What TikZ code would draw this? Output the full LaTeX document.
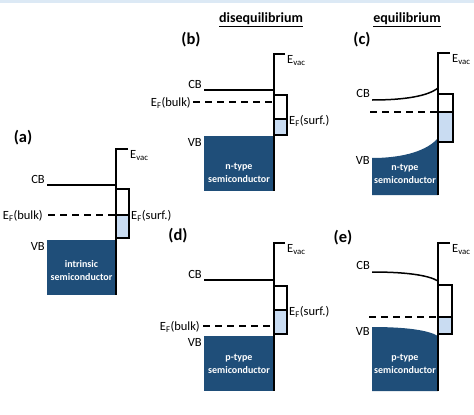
\documentclass[tikz,border=0pt]{standalone}
\usepackage{fontspec}
\setmainfont{Carlito}
\definecolor{blockblue}{HTML}{1F4E79}
\definecolor{fillblue}{HTML}{C9DCF2}
\definecolor{stripblue}{HTML}{DCE9F5}
\tikzset{
  band/.style={line width=1.5pt},
  fermi/.style={line width=1.5pt, dash pattern=on 7pt off 5pt},
  semiblock/.style={fill=blockblue, draw=none},
  surfbox/.style={draw, line width=1.5pt},
  surffill/.style={fill=fillblue, draw=none},
  lbl/.style={font=\fontsize{12.5}{14}\selectfont, inner sep=1pt},
  panel/.style={font=\fontsize{16.5}{18}\selectfont\bfseries, inner sep=0pt},
  head/.style={font=\fontsize{14}{16}\selectfont\bfseries, inner sep=0pt},
  blocktext/.style={font=\fontsize{10}{13}\selectfont\bfseries, text=white, align=center, inner sep=0pt}
}
\begin{document}
\begin{tikzpicture}[x=1pt,y=-1pt]
\useasboundingbox (0,0) rectangle (474,415);
\fill[stripblue] (0,0) rectangle (474,3);

% headers
\node[head] (hdis) at (261,20) {\underline{disequilibrium}};
\node[head] (heq) at (407,20) {\underline{equilibrium}};

% ================= (a) =================
\node[panel] (la) at (23,138) {(a)};
\fill[semiblock] (47,240) rectangle (116,295);
\node[blocktext] (ta) at (81.5,271) {intrinsic\\semiconductor};
\fill[surffill] (116,215) rectangle (129,238);
\draw[surfbox] (116,189) rectangle (129,238);
\draw[band] (116,215) -- (129,215);
\coordinate (av) at (128,149);
\draw[band] (av) -- (116,149) -- (116,295);
\coordinate (acb) at (47,185);
\draw[band] (acb) -- (116,185);
\coordinate (aef) at (48,215);
\draw[fermi] (aef) -- (116,215);
\node[lbl, anchor=north west] (aevac) at (129,149) {E\textsubscript{vac}};
\node[lbl, anchor=base east] (acbl) at (46,183) {CB};
\node[lbl, anchor=east] (aefl) at (44,216) {E\textsubscript{F}(bulk)};
\node[lbl, anchor=west] (aesl) at (130,216) {E\textsubscript{F}(surf.)};
\node[lbl, anchor=north east] (avbl) at (46,241) {VB};

% ================= (b) =================
\node[panel] (lb) at (191,40) {(b)};
\fill[semiblock] (204,136) rectangle (274,191);
\node[blocktext] (tb) at (239,173) {n-type\\semiconductor};
\fill[surffill] (274,119) rectangle (287,135);
\draw[surfbox] (274,95) rectangle (287,135);
\draw[band] (274,119) -- (287,119);
\coordinate (bv) at (285,54);
\draw[band] (bv) -- (274,54) -- (274,191);
\coordinate (bcb) at (204,90);
\draw[band] (bcb) -- (274,90);
\coordinate (bef) at (193,102);
\draw[fermi] (bef) -- (274,102);
\node[lbl, anchor=north west] (bevac) at (286,54) {E\textsubscript{vac}};
\node[lbl, anchor=base east] (bcbl) at (203,88) {CB};
\node[lbl, anchor=east] (befl) at (192,103) {E\textsubscript{F}(bulk)};
\node[lbl, anchor=west] (besl) at (288,121) {E\textsubscript{F}(surf.)};
\node[lbl, anchor=north east] (bvbl) at (203,137) {VB};

% ================= (c) =================
\node[panel] (lc) at (362,40) {(c)};
\fill[semiblock] (372,158) .. controls (405,158) and (428,150) .. (438,138) -- (438,195) -- (372,195) -- cycle;
\node[blocktext] (tc) at (405,174) {n-type\\semiconductor};
\fill[surffill] (438,112) rectangle (453,142);
\draw[surfbox] (438,94) rectangle (453,142);
\draw[band] (438,112) -- (453,112);
\coordinate (cv) at (450,53);
\draw[band] (cv) -- (438,53) -- (438,195);
\coordinate (ccb) at (372,100);
\draw[band] (ccb) .. controls (405,100) and (428,96) .. (438,88);
\coordinate (cef) at (370,112);
\draw[fermi] (cef) -- (438,112);
\node[lbl, anchor=north west] (cevac) at (451,53) {E\textsubscript{vac}};
\node[lbl, anchor=base east] (ccbl) at (371,97) {CB};
\node[lbl, anchor=north east] (cvbl) at (371,155) {VB};

% ================= (d) =================
\node[panel] (ld) at (178,236) {(d)};
\fill[semiblock] (204,336) rectangle (274,391);
\node[blocktext] (td) at (239,364) {p-type\\semiconductor};
\fill[surffill] (274,310) rectangle (287,334);
\draw[surfbox] (274,286) rectangle (287,334);
\draw[band] (274,310) -- (287,310);
\coordinate (dv) at (285,243);
\draw[band] (dv) -- (274,243) -- (274,391);
\coordinate (dcb) at (204,280);
\draw[band] (dcb) -- (274,280);
\coordinate (def) at (203,326);
\draw[fermi] (def) -- (274,326);
\node[lbl, anchor=north west] (devac) at (286,243) {E\textsubscript{vac}};
\node[lbl, anchor=base east] (dcbl) at (203,278) {CB};
\node[lbl, anchor=east] (defl) at (201,327) {E\textsubscript{F}(bulk)};
\node[lbl, anchor=west] (desl) at (288,312) {E\textsubscript{F}(surf.)};
\node[lbl, anchor=north east] (dvbl) at (203,337) {VB};

% ================= (e) =================
\node[panel] (le) at (343,238) {(e)};
\fill[semiblock] (372,327) .. controls (405,327) and (428,330) .. (438,336) -- (438,391) -- (372,391) -- cycle;
\node[blocktext] (te) at (405,364) {p-type\\semiconductor};
\fill[surffill] (438,317) rectangle (452,334);
\draw[surfbox] (438,285) rectangle (452,334);
\draw[band] (438,317) -- (452,317);
\coordinate (ev) at (450,243);
\draw[band] (ev) -- (438,243) -- (438,391);
\coordinate (ecb) at (372,272);
\draw[band] (ecb) .. controls (405,272) and (428,275) .. (438,281);
\coordinate (eef) at (369,317);
\draw[fermi] (eef) -- (438,317);
\node[lbl, anchor=north west] (eevac) at (451,243) {E\textsubscript{vac}};
\node[lbl, anchor=base east] (ecbl) at (371,269) {CB};
\node[lbl, anchor=north east] (evbl) at (371,326) {VB};
\end{tikzpicture}
\end{document}
